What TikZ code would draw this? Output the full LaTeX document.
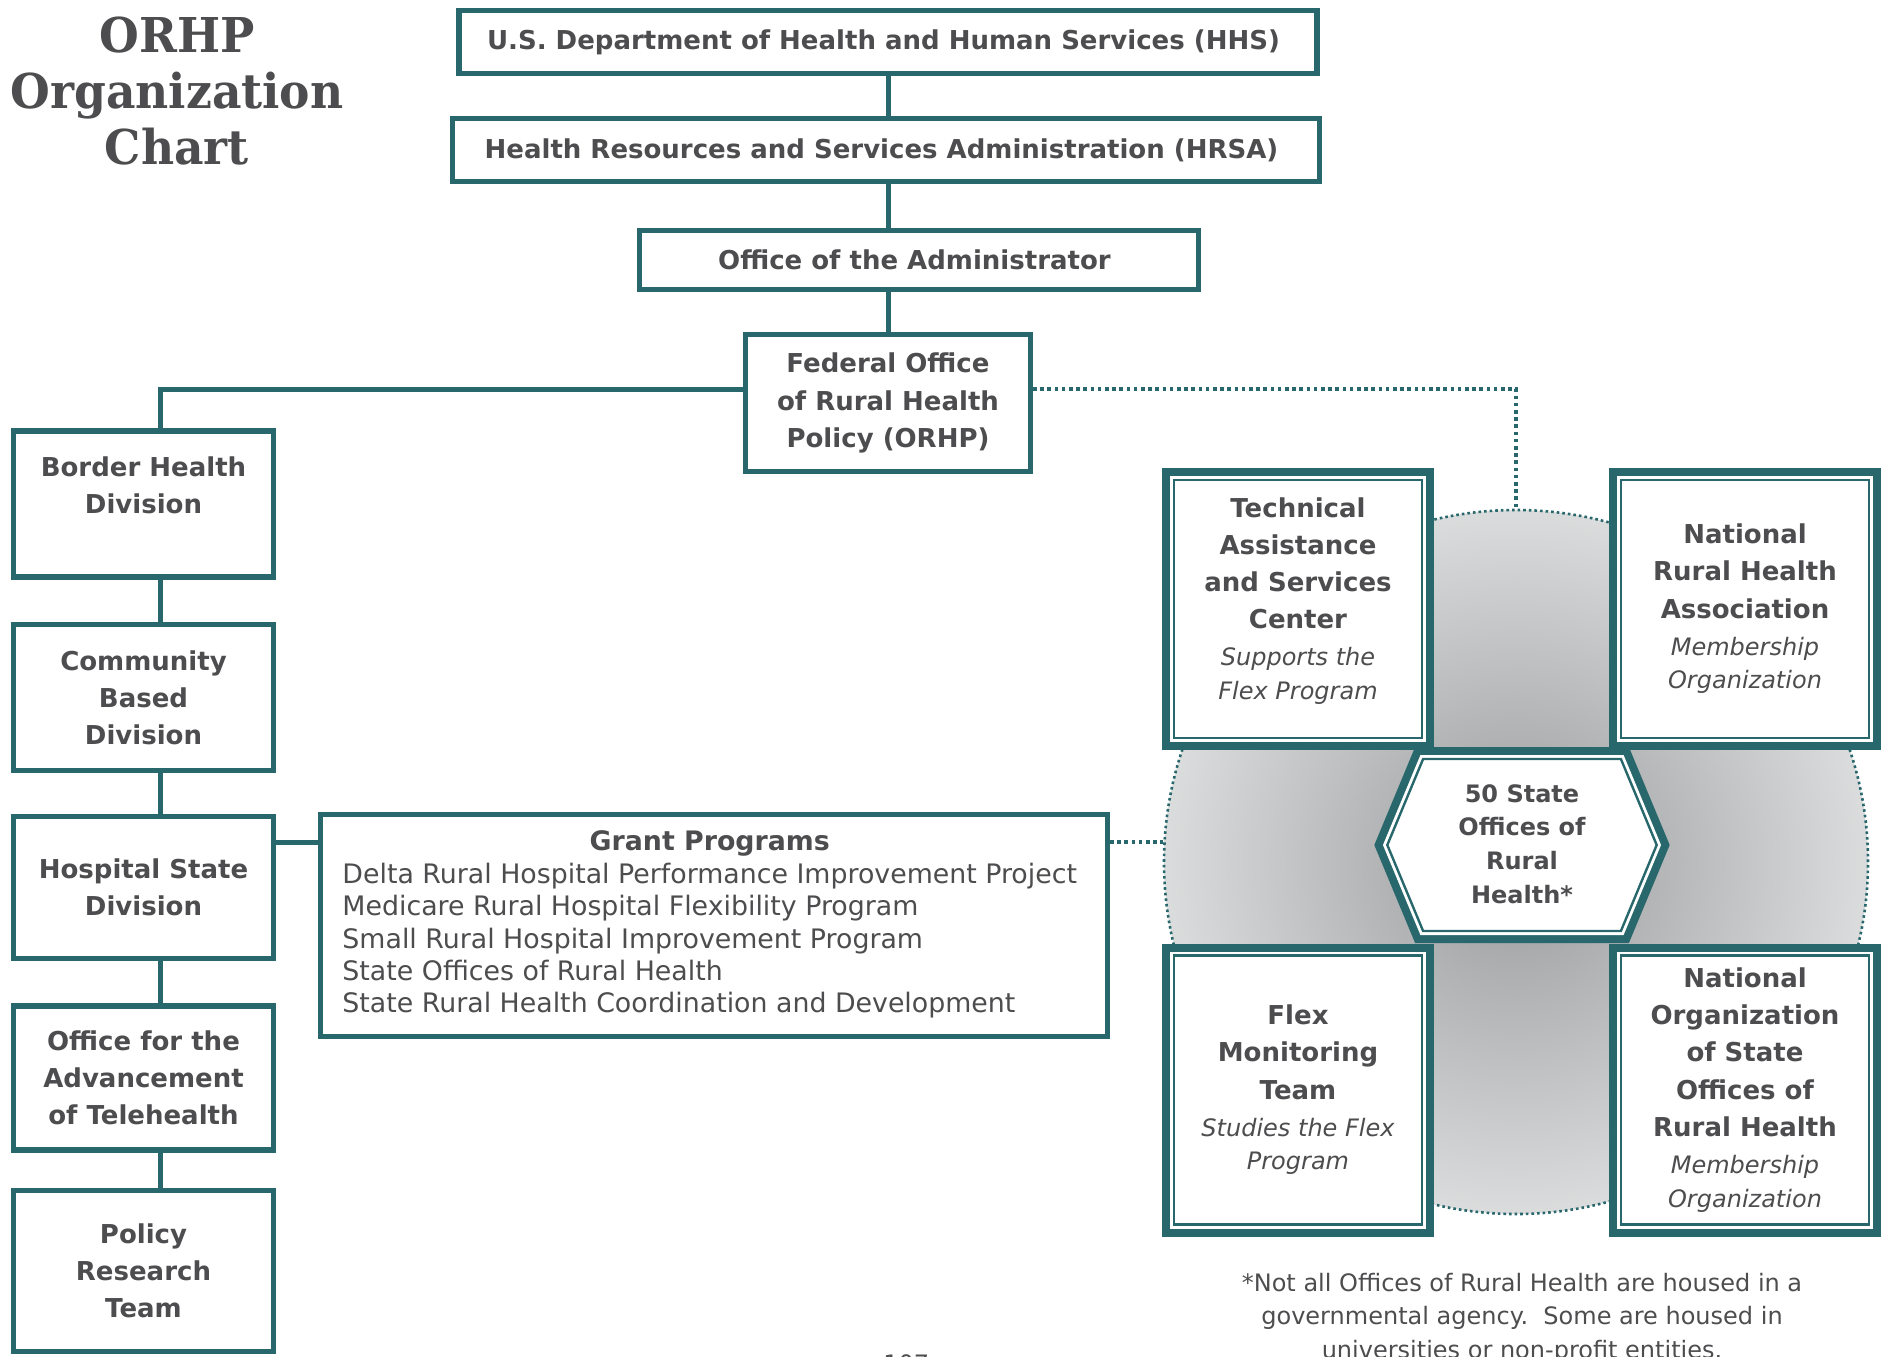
\documentclass[tikz,border=0pt]{standalone}
\usepackage{fontspec}
\setmainfont{DejaVu Sans}
\newfontfamily\titlefont[FakeStretch=0.95]{DejaVu Serif}
\usepackage{xcolor}
\definecolor{orhpteal}{HTML}{28686C}
\definecolor{orhpgray}{HTML}{4D4D4F}
\definecolor{halocore}{HTML}{9A9B9D}
\definecolor{haloedge}{HTML}{EDEEEE}
\pgfdeclareradialshading{halo}{\pgfpoint{0bp}{0bp}}{%
    color(0bp)=(halocore); color(32bp)=(haloedge); color(50bp)=(haloedge)}
\newcommand{\subnote}[1]{{\fontsize{12}{16.8}\selectfont\mdseries\itshape #1}}

\begin{document}
\begin{tikzpicture}[x=0.5pt, y=-0.5pt,
    every node/.style={
        rectangle,
        inner sep=0pt,
        draw=orhpteal,
        line width=2.7pt,
        fill=white,
        text=orhpgray,
        align=center,
        font=\fontsize{13}{18.6}\selectfont\bfseries
    },
    satbox/.style={
        line width=1.2pt,
        minimum width=124pt,
        preaction={draw=orhpteal, line width=12pt},
        preaction={draw=white, line width=4pt}
    },
    hexframe/.style={
        preaction={draw=orhpteal, line width=12pt},
        preaction={draw=white, line width=4pt},
        fill=white, draw=orhpteal, line width=1.2pt
    },
    link/.style={draw=orhpteal, line width=2.5pt},
    dotlink/.style={draw=orhpteal, line width=1.8pt, dash pattern=on 1.8pt off 1.8pt}
]
    \useasboundingbox (0, 0) rectangle (1881, 1356);

    \node (title) [draw=none, fill=none, font=\titlefont\bfseries\fontsize{24}{28.2}\selectfont, shift={(177, 91)}]
    {
        ORHP\\
        Organization\\
        Chart
    };

    % chain of command
    \node (hhs) [shift={(888, 42)}, minimum width=429pt, minimum height=31.3pt]
    {
        U.S. Department of Health and Human Services (HHS)
    };
    \node (hrsa) [shift={(886, 150)}, minimum width=433.3pt, minimum height=31.3pt]
    {
        Health Resources and Services Administration (HRSA)
    };
    \node (administrator) [shift={(919, 260)}, minimum width=279.3pt, minimum height=29.3pt]
    {
        Office of the Administrator
    };
    \node (federal_office) [shift={(888, 403)}, minimum width=142.3pt, minimum height=68.3pt]
    {
        Federal Office\\
        of Rural Health\\
        Policy (ORHP)
    };

    % divisions
    \node (border_health) [shift={(143.5, 504)}, minimum width=130pt, minimum height=73pt]
    {
        Border Health\\
        Division\\
        \mbox{}
    };
    \node (community_based) [shift={(143.5, 697.5)}, minimum width=130pt, minimum height=73pt]
    {
        Community\\
        Based\\
        Division
    };
    \node (hospital_state) [shift={(143.5, 887.5)}, minimum width=130pt, minimum height=71pt]
    {
        Hospital State\\
        Division
    };
    \node (telehealth) [shift={(143.5, 1078)}, minimum width=130pt, minimum height=72pt]
    {
        Office for the\\
        Advancement\\
        of Telehealth
    };
    \node (policy_research) [shift={(143.5, 1271)}, minimum width=130pt, minimum height=80.5pt]
    {
        Policy\\
        Research\\
        Team
    };

    \node (grant_programs) [shift={(714, 925.5)}, minimum width=393.3pt, minimum height=110.8pt,
        font=\fontsize{13.4}{16.2}\selectfont\mdseries]
    {
        \begin{tabular}{@{}l@{}}
            \multicolumn{1}{@{}c@{}}{\bfseries Grant Programs}\\
            Delta Rural Hospital Performance Improvement Project\\
            Medicare Rural Hospital Flexibility Program\\
            Small Rural Hospital Improvement Program\\
            State Offices of Rural Health\\
            State Rural Health Coordination and Development
        \end{tabular}
    };

    \draw[link] (hhs.south) -- (hhs.south |- hrsa.north);
    \draw[link] (hhs.south |- hrsa.south) -- (hhs.south |- administrator.north);
    \draw[link] (hhs.south |- administrator.south) -- (hhs.south |- federal_office.north);
    \coordinate (trunk) at (160, 389);
    \draw[link] (federal_office.west |- trunk) -- (trunk) -- (trunk |- border_health.north);
    \draw[link] (trunk |- border_health.south) -- (trunk |- community_based.north);
    \draw[link] (trunk |- community_based.south) -- (trunk |- hospital_state.north);
    \draw[link] (trunk |- hospital_state.south) -- (trunk |- telehealth.north);
    \draw[link] (trunk |- telehealth.south) -- (trunk |- policy_research.north);
    \draw[link] ([yshift=22.75pt]hospital_state.east) -- ([yshift=22.75pt]hospital_state.east -| grant_programs.west);

    % partners around the state offices
    \node (ring) [circle, fill=none, shade, shading=halo, draw=orhpteal, line width=1.3pt,
        dash pattern=on 1.3pt off 1.5pt, minimum size=352pt, shift={(1516, 862)}] {};
    \draw[dotlink] ([yshift=41.75pt]grant_programs.east) -- ([yshift=41.75pt]grant_programs.east -| ring.west);
    \draw[dotlink] ([yshift=7pt]federal_office.east) -| (ring.north);

    \node (tasc) [satbox, shift={(1298, 609)}, minimum height=129pt]
    {
        Technical\\
        Assistance\\
        and Services\\
        Center\\
        \subnote{Supports the}\\[-1.8pt]
        \subnote{Flex Program}\\[-8pt]
        \mbox{}
    };
    \node (nrha) [satbox, shift={(1745, 609)}, minimum height=129pt]
    {
        National\\
        Rural Health\\
        Association\\
        \subnote{Membership}\\[-1.8pt]
        \subnote{Organization}
    };
    \node (flex_monitoring) [satbox, shift={(1298, 1090)}, minimum height=134.5pt]
    {
        Flex\\
        Monitoring\\
        Team\\
        \subnote{Studies the Flex}\\[-1.8pt]
        \subnote{Program}
    };
    \node (nosorh) [satbox, shift={(1745, 1090)}, minimum height=134.5pt]
    {
        National\\
        Organization\\
        of State\\
        Offices of\\
        Rural Health\\
        \subnote{Membership}\\[-1.8pt]
        \subnote{Organization}
    };

    \coordinate (hub) at (1522, 845);
    \draw[hexframe, shift={(hub)}] (-134.7, 0) -- (-98.9, -86) -- (98.9, -86) -- (134.7, 0)
        -- (98.9, 86) -- (-98.9, 86) -- cycle;
    \node (state_offices) [draw=none, fill=none, font=\fontsize{12}{16.8}\selectfont\bfseries, shift={(1522, 844)}]
    {
        50 State\\
        Offices of\\
        Rural\\
        Health*
    };

    \node (footnote) [draw=none, fill=none, font=\fontsize{12}{16.8}\selectfont\mdseries, shift={(1522, 1318)}]
    {
        *Not all Offices of Rural Health are housed in a\\
        governmental agency.\ \ Some are housed in\\
        universities or non-profit entities.
    };
    \node (page_number) [draw=none, fill=none, anchor=north, font=\fontsize{12}{14}\selectfont\mdseries, shift={(910, 1352)}]
    {
        107
    };
\end{tikzpicture}
\end{document}
